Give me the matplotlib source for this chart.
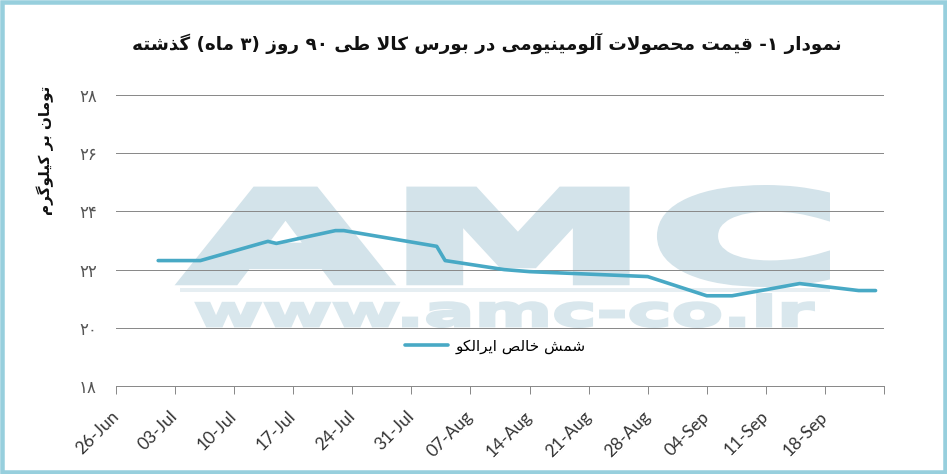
import re
from datetime import datetime, timedelta

import matplotlib
matplotlib.use("Agg")
import matplotlib.pyplot as plt
from matplotlib.textpath import TextPath
from matplotlib.patches import PathPatch, Rectangle
from matplotlib.font_manager import FontProperties
from matplotlib.transforms import Affine2D, ScaledTranslation

# ---- data ----
dates = ["2017-07-01", "2017-07-06", "2017-07-14", "2017-07-15", "2017-07-22",
         "2017-07-23", "2017-08-03", "2017-08-04", "2017-08-11", "2017-08-14",
         "2017-08-28", "2017-09-04", "2017-09-07", "2017-09-15", "2017-09-22",
         "2017-09-24"]
prices = [22.31, 22.31, 22.97, 22.90, 23.34, 23.34, 22.80, 22.31, 22.00, 21.93,
          21.76, 21.10, 21.10, 21.52, 21.28, 21.28]

x_start = "2017-06-26"
x_end = "2017-09-25"
x_labels = ["26-Jun", "03-Jul", "10-Jul", "17-Jul", "24-Jul", "31-Jul", "07-Aug",
            "14-Aug", "21-Aug", "28-Aug", "04-Sep", "11-Sep", "18-Sep", ""]
y_ticks = [18, 20, 22, 24, 26, 28]

title = "نمودار ۱- قیمت محصولات آلومینیومی در بورس کالا طی ۹۰ روز (۳ ماه) گذشته"
y_title = "تومان بر کیلوگرم"
series_name = "شمش خالص ایرالکو"

LINE_COLOR = "#48a9c5"
GRID = "#8a8a8a"
BORDER = "#97cfdd"
WM = "#d3e3ea"

# ---- tiny persian shaper (matplotlib has no bidi / shaping) ----
RIGHT = {"ا": "\uFE8D\uFE8E", "آ": "\uFE81\uFE82", "د": "\uFEA9\uFEAA",
         "ذ": "\uFEAB\uFEAC", "ر": "\uFEAD\uFEAE", "ز": "\uFEAF\uFEB0",
         "ژ": "\uFB8A\uFB8B", "و": "\uFEED\uFEEE"}
DUAL = {"ب": "\uFE8F\uFE90\uFE91\uFE92", "پ": "\uFB56\uFB57\uFB58\uFB59",
        "ت": "\uFE95\uFE96\uFE97\uFE98", "ث": "\uFE99\uFE9A\uFE9B\uFE9C",
        "ج": "\uFE9D\uFE9E\uFE9F\uFEA0", "چ": "\uFB7A\uFB7B\uFB7C\uFB7D",
        "ح": "\uFEA1\uFEA2\uFEA3\uFEA4", "خ": "\uFEA5\uFEA6\uFEA7\uFEA8",
        "س": "\uFEB1\uFEB2\uFEB3\uFEB4", "ش": "\uFEB5\uFEB6\uFEB7\uFEB8",
        "ص": "\uFEB9\uFEBA\uFEBB\uFEBC", "ض": "\uFEBD\uFEBE\uFEBF\uFEC0",
        "ط": "\uFEC1\uFEC2\uFEC3\uFEC4", "ظ": "\uFEC5\uFEC6\uFEC7\uFEC8",
        "ع": "\uFEC9\uFECA\uFECB\uFECC", "غ": "\uFECD\uFECE\uFECF\uFED0",
        "ف": "\uFED1\uFED2\uFED3\uFED4", "ق": "\uFED5\uFED6\uFED7\uFED8",
        "ک": "\uFB8E\uFB8F\uFB90\uFB91", "گ": "\uFB92\uFB93\uFB94\uFB95",
        "ل": "\uFEDD\uFEDE\uFEDF\uFEE0", "م": "\uFEE1\uFEE2\uFEE3\uFEE4",
        "ن": "\uFEE5\uFEE6\uFEE7\uFEE8", "ه": "\uFEE9\uFEEA\uFEEB\uFEEC",
        "ی": "\uFBFC\uFBFD\uFBFE\uFBFF"}
LAMALEF = {"ا": "\uFEFB\uFEFC", "آ": "\uFEF5\uFEF6"}


def fa(text):
    out = []
    i = 0
    n = len(text)
    while i < n:
        c = text[i]
        prev = text[i - 1] if i > 0 else ""
        nxt = text[i + 1] if i + 1 < n else ""
        con_prev = prev in DUAL
        if c == "ل" and nxt in LAMALEF:
            out.append(LAMALEF[nxt][1 if con_prev else 0])
            i += 2
            continue
        if c in DUAL:
            con_next = nxt in DUAL or nxt in RIGHT
            if con_next:
                idx = 3 if con_prev else 2
            else:
                idx = 1 if con_prev else 0
            out.append(DUAL[c][idx])
        elif c in RIGHT:
            out.append(RIGHT[c][1 if con_prev else 0])
        else:
            out.append(c)
        i += 1
    tokens = re.findall(r"[0-9\u06F0-\u06F9]+|.", "".join(out))
    mirror = {"(": ")", ")": "("}
    return "".join(mirror.get(t, t) for t in reversed(tokens))


def fa_digits(v):
    return str(v).translate(str.maketrans("0123456789", "۰۱۲۳۴۵۶۷۸۹"))


def px(v):
    return v * 72 / 100.0


W, H = 947, 474
fig = plt.figure(figsize=(W / 100, H / 100), dpi=100)

# background layer: frame + watermark, in pixel coordinates
bg = fig.add_axes([0, 0, 1, 1], zorder=0)
bg.set_xlim(0, W)
bg.set_ylim(H, 0)
bg.axis("off")
bg.add_patch(Rectangle((2, 2), W - 4.5, H - 4.5, fill=False, ec=BORDER, lw=px(4.5)))


def stamp(s, x0, x1, ytop, ybot, color, stroke):
    tp = TextPath((0, 0), s, size=100, prop=FontProperties(family="DejaVu Sans", weight="bold"))
    bb = tp.get_extents()
    h = stroke / 2.0
    sx = (x1 - x0 - stroke) / bb.width
    sy = (ybot - ytop - stroke) / bb.height
    tr = Affine2D().translate(-bb.x0, -bb.y0).scale(sx, -sy).translate(x0 + h, ybot - h)
    bg.add_patch(PathPatch(tr.transform_path(tp), fc=color, ec=color, lw=px(stroke),
                           joinstyle="miter"))


stamp("AMC", 180, 830, 185, 287, WM, 10)
bg.add_patch(Rectangle((180, 288), 650, 4, fc="#e6eef2", ec="none"))
stamp("www.amc-co.ir", 195, 815, 293, 328, "#d9e7ed", 3)

# main chart
ax = fig.add_axes([116 / W, 1 - 386 / H, (884 - 116) / W, (386 - 95) / H], zorder=1)
ax.patch.set_alpha(0)

xs = [datetime.strptime(d, "%Y-%m-%d") for d in dates]
ax.plot(xs, prices, color=LINE_COLOR, lw=px(3.6), solid_capstyle="round",
        solid_joinstyle="round", label=fa(series_name), zorder=3)

t0 = datetime.strptime(x_start, "%Y-%m-%d")
t1 = datetime.strptime(x_end, "%Y-%m-%d")
ax.set_xlim(t0, t1)
ax.set_ylim(18, 28)

tick_pos = [t0 + timedelta(days=7 * i) for i in range(len(x_labels))]
ax.set_xticks(tick_pos)
ax.set_xticklabels(x_labels, rotation=45, ha="right", va="center",
                   rotation_mode="anchor", fontsize=12.5, color="#333333",
                   family="Lato")
shift = ScaledTranslation(13 / 100, 0, fig.dpi_scale_trans)
for lab in ax.get_xticklabels():
    lab.set_transform(lab.get_transform() + shift)

ax.set_yticks(y_ticks)
ax.set_yticklabels([fa_digits(v) for v in y_ticks], fontsize=12, color="#555555",
                   family="DejaVu Sans")

ax.tick_params(axis="x", direction="out", length=px(8), width=px(1), color=GRID,
               pad=px(20))
ax.tick_params(axis="y", length=0, pad=px(19))
ax.yaxis.grid(True, color=GRID, lw=px(1))
ax.set_axisbelow(True)
for side in ["top", "right", "left"]:
    ax.spines[side].set_visible(False)
ax.spines["bottom"].set_color(GRID)
ax.spines["bottom"].set_linewidth(px(1))

leg = ax.legend(loc="center", bbox_to_anchor=(495 / W, 1 - 346 / H),
                bbox_transform=fig.transFigure, frameon=False,
                handlelength=2.8, handletextpad=0.5, prop={"family": "DejaVu Sans", "size": 11})

fig.text(487 / W, 1 - 43 / H, fa(title), ha="center", va="center", fontsize=13.2,
         weight="bold", family="DejaVu Sans", color="#111111")
fig.text(45 / W, 1 - 150 / H, fa(y_title), ha="center", va="center", rotation=90,
         fontsize=11, weight="bold", family="DejaVu Sans", color="#111111")

fig.savefig("out.png", dpi=100)
